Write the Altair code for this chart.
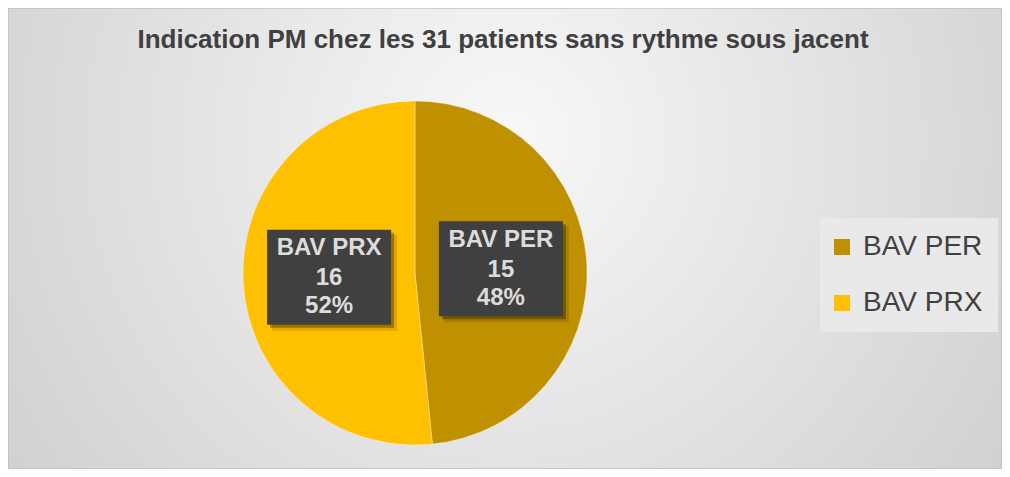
import math
import altair as alt
import pandas as pd

# ---- data ----
title_text = "Indication PM chez les 31 patients sans rythme sous jacent"
categories = ["BAV PER", "BAV PRX"]
counts = [15, 16]
colors = ["#BF9000", "#FFC000"]

# ---- layout ----
W, H = 994, 461
CX, CY, R = 407, 265, 172
RL = 86
BOX_W, BOX_H = 124, 95
FONT = "Liberation Sans"

total = sum(counts)
rows = []
start = 0
for i, (c, n) in enumerate(zip(categories, counts)):
    end = start + n
    mid = (start + end) / 2 / total * 2 * math.pi
    px = CX + RL * math.sin(mid)
    py = CY - RL * math.cos(mid)
    rows.append(dict(cat=c, n=n, ntxt=str(n), order=i,
                     pct=f"{round(100 * n / total)}%",
                     px=px, py=py,
                     x0=px - BOX_W / 2, x1=px + BOX_W / 2,
                     y0=py - BOX_H / 2, y1=py + BOX_H / 2))
    start = end
df = pd.DataFrame(rows)

shadow_df = pd.DataFrame({"k": list(range(6))})
shadow_df["area"] = [math.pi * (R - 3 + 2.2 * k) ** 2 for k in shadow_df["k"]]

bg = alt.Chart(pd.DataFrame({"a": [0]})).mark_rect(
    color={"gradient": "radial", "x1": 0.5, "y1": 0.4, "r1": 0,
           "x2": 0.5, "y2": 0.4, "r2": 0.78,
           "stops": [{"offset": 0, "color": "#f8f8f8"},
                     {"offset": 1, "color": "#c5c5c5"}]},
    stroke="#b3b3b3", strokeWidth=1,
).encode(x=alt.value(0), x2=alt.value(W), y=alt.value(0), y2=alt.value(H))

shadow = alt.Chart(shadow_df).mark_circle(color="black", opacity=0.03).encode(
    x=alt.value(CX), y=alt.value(CY + 5),
    size=alt.Size("area:Q", scale=None, legend=None),
)

base = alt.Chart(df)

pie = base.mark_arc(outerRadius=R, stroke="#ffffff", strokeWidth=0.7,
                    strokeOpacity=0.5).encode(
    theta=alt.Theta("n:Q", stack=True),
    order=alt.Order("order:Q"),
    color=alt.Color(
        "cat:N",
        scale=alt.Scale(domain=categories, range=colors),
        legend=alt.Legend(
            title=None, orient="none", legendX=812, legendY=210,
            symbolType="square", symbolSize=256, symbolStrokeWidth=0,
            symbolOffset=-7,
            labelFontSize=28, labelFont=FONT, labelColor="#404040",
            labelOffset=7, fillColor="#e9e9e9", padding=15, rowPadding=28,
        ),
    ),
    x=alt.value(CX), y=alt.value(CY),
)

box_shadow2 = base.mark_rect(color="black", opacity=0.12).encode(
    x=alt.X("x0:Q", scale=None), x2="x1:Q",
    y=alt.Y("y0:Q", scale=None), y2="y1:Q",
).transform_calculate(
    x0="datum.x0 + 5", x1="datum.x1 + 6", y0="datum.y0 + 5", y1="datum.y1 + 6"
)
box_shadow = base.mark_rect(color="black", opacity=0.3).encode(
    x=alt.X("x0:Q", scale=None), x2="x1:Q",
    y=alt.Y("y0:Q", scale=None), y2="y1:Q",
).transform_calculate(
    x0="datum.x0 + 3", x1="datum.x1 + 3", y0="datum.y0 + 3", y1="datum.y1 + 3"
)
box = base.mark_rect(color="#404040").encode(
    x=alt.X("x0:Q", scale=None), x2="x1:Q",
    y=alt.Y("y0:Q", scale=None), y2="y1:Q",
)

def line(field, dy):
    return base.mark_text(font=FONT, fontSize=24, fontWeight="bold",
                          color="#dcdcdc", baseline="middle", align="center",
                          dy=dy).encode(
        x=alt.X("px:Q", scale=None), y=alt.Y("py:Q", scale=None),
        text=f"{field}:N",
    )

t1 = line("cat", -29)
t2 = line("ntxt", 1)
t3 = line("pct", 29)

title = alt.Chart(pd.DataFrame({"t": [title_text]})).mark_text(
    font=FONT, fontSize=26, fontWeight="bold", color="#404040",
    baseline="alphabetic", align="center",
).encode(x=alt.value(495), y=alt.value(40), text="t:N")

chart = alt.layer(bg, shadow, pie, box_shadow2, box_shadow, box, t1, t2, t3, title).properties(
    width=W, height=H, padding=0,
    autosize=alt.AutoSizeParams(type="none"),
).configure_view(strokeWidth=0)

chart.save("out.html", embed_options={"renderer": "svg", "actions": False})
